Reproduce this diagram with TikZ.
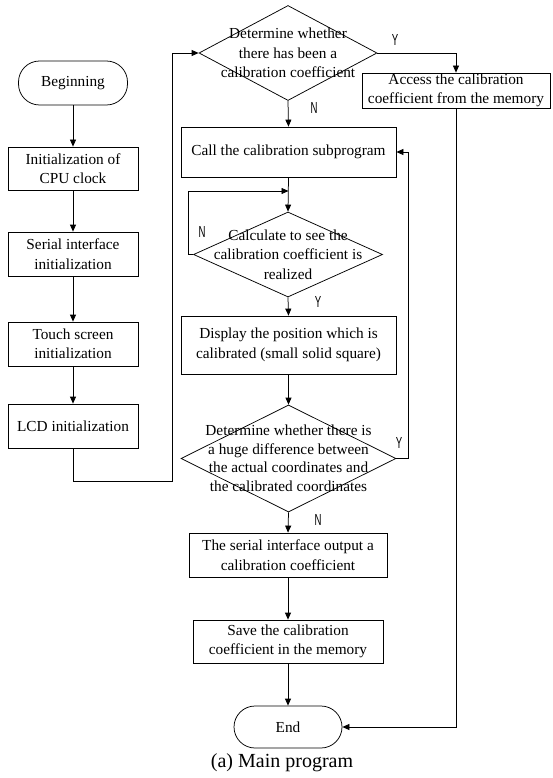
\documentclass[tikz,border=0pt]{standalone}
\usepackage{fontspec}
\setmainfont{Liberation Serif}
\newfontfamily\ynfont{Liberation Sans}
\usetikzlibrary{shapes.geometric,arrows.meta}
\newcommand\ynlab[1]{\scalebox{0.6}[1]{\ynfont\fontsize{16}{16}\selectfont #1}}
\begin{document}
\begin{tikzpicture}[x=1pt,y=-1pt,line width=0.75pt,
  box/.style={draw, rectangle, inner sep=0pt, align=center, font=\fontsize{15.3}{19.5}\selectfont},
  term/.style={draw, rectangle, rounded corners=21pt, inner sep=0pt, font=\fontsize{15.3}{19.5}\selectfont},
  dia/.style={draw, diamond, inner sep=0pt},
  dtxt/.style={align=center, inner sep=0pt, font=\fontsize{15.3}{19.5}\selectfont},
  yn/.style={inner sep=0pt},
  arr/.style={-{Triangle[length=7pt,width=6pt]}}]
\useasboundingbox (0,0) rectangle (552,778);
% left column
\node[term, minimum width=109pt, minimum height=44pt] (begin) at (73,83) {Beginning};
\node[box, minimum width=130pt, minimum height=43pt] (cpu) at (73,168.5) {Initialization of\\CPU clock};
\node[box, minimum width=130pt, minimum height=44pt] (ser) at (73,254) {Serial interface\\initialization};
\node[box, minimum width=130pt, minimum height=44pt] (touch) at (73,344) {Touch screen\\initialization};
\node[box, minimum width=130pt, minimum height=44pt] (lcd) at (73,426) {LCD initialization};
% main column
\node[dia, minimum width=178pt, minimum height=95pt] (d1) at (288,53) {};
\node[dtxt] (d1t) at (d1) {Determine whether\\there has been a\\calibration coefficient};
\node[box, minimum width=188pt, minimum height=35pt] (acc) at (456,90.5) {Access the calibration\\coefficient from the memory};
\node[box, minimum width=215pt, minimum height=50pt] (call) at (288.5,152) {Call the calibration subprogram};
\node[dia, minimum width=189pt, minimum height=85pt] (d2) at (288,254.5) {};
\node[dtxt] (d2t) at (d2) {Calculate to see the\\calibration coefficient is\\realized};
\node[box, minimum width=215pt, minimum height=58pt] (disp) at (288.5,345) {Display the position which is\\calibrated (small solid square)};
\node[dia, minimum width=215pt, minimum height=107pt] (d3) at (288.5,458.5) {};
\node[dtxt, font=\fontsize{15.3}{18.5}\selectfont] (d3t) at (d3) {Determine whether there is\\a huge difference between\\the actual coordinates and\\the calibrated coordinates};
\node[box, minimum width=198pt, minimum height=44pt] (sout) at (288,555) {The serial interface output a\\calibration coefficient};
\node[box, minimum width=190pt, minimum height=43pt] (save) at (288,641.5) {Save the calibration\\coefficient in the memory};
\node[term, minimum width=108pt, minimum height=42pt] (end) at (288,727) {End};
\node[inner sep=0pt, font=\fontsize{20}{24}\selectfont] (cap) at (282,763) {(a) Main program};
% labels
\node[yn] (y1) at (395,40) {\ynlab{Y}};
\node[yn] (n1) at (314,108) {\ynlab{N}};
\node[yn] (n2) at (202,232) {\ynlab{N}};
\node[yn] (y2) at (318,302) {\ynlab{Y}};
\node[yn] (y3) at (399,443) {\ynlab{Y}};
\node[yn] (n3) at (318,520) {\ynlab{N}};
% connectors
\coordinate (c1) at (172,481);
\coordinate (c2) at (188,191);
\coordinate (c3) at (408,458.5);
\draw[arr] (begin.south) -- (cpu.north);
\draw[arr] (cpu.south) -- (ser.north);
\draw[arr] (ser.south) -- (touch.north);
\draw[arr] (touch.south) -- (lcd.north);
\draw[arr] (lcd.south) |- (c1) |- (d1.west);
\draw[arr] (d1.east) -| (acc.north);
\draw[arr] (d1.south) -- (call.north);
\draw[arr] (call.south) -- (d2.north);
\draw[arr] (d2.west) -| (c2) -- (call.south |- c2);
\draw[arr] (d2.south) -- (disp.north);
\draw[arr] (disp.south) -- (d3.north);
\draw[arr] (d3.east) -- (c3) |- (call.east);
\draw[arr] (d3.south) -- (sout.north);
\draw[arr] (sout.south) -- (save.north);
\draw[arr] (save.south) -- (end.north);
\draw[arr] (acc.south) |- (end.east);
\end{tikzpicture}
\end{document}
